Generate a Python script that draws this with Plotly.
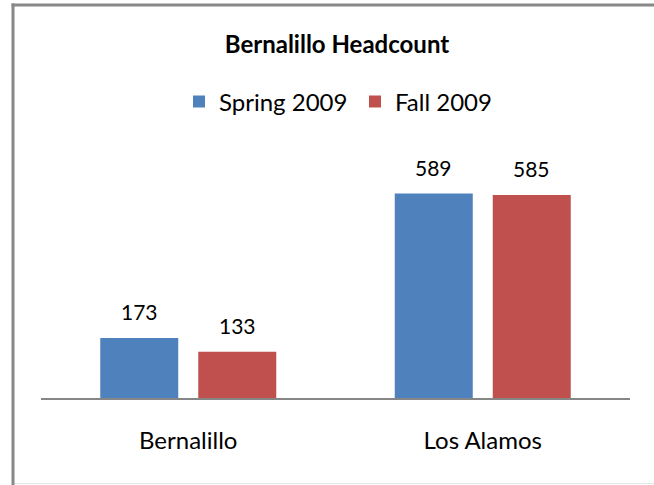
import plotly.graph_objects as go

categories = ["Bernalillo", "Los Alamos"]
spring_2009 = [173, 589]
fall_2009 = [133, 585]
series_names = ["Spring 2009", "Fall 2009"]
title_text = "Bernalillo Headcount"

W, H = 654, 485
L, R, T, B = 41, 24, 155, 87
pw = W - L - R
ph = H - T - B
FONT = "Lato, 'Open Sans', sans-serif"
bargap = 0.3345
bargroupgap = 0.204
ymax = 700

fig = go.Figure()
colors = ["#4F81BD", "#C0504D"]
for name, vals, col in zip(series_names, [spring_2009, fall_2009], colors):
    fig.add_trace(go.Bar(name=name, x=categories, y=vals, marker=dict(color=col, line=dict(width=0))))

# value labels as annotations
slot = (1 - bargap) / 2
for si, vals in enumerate([spring_2009, fall_2009]):
    off = (si - 0.5) * slot
    for ci, v in enumerate(vals):
        fig.add_annotation(x=ci + off, y=v, xref="x", yref="y", text=str(v), showarrow=False,
                           yanchor="bottom", yshift=12, font=dict(family=FONT, size=21, color="#000"))

def px2x(px):
    return (px - L) / pw

def py2y(py):
    return (H - B - py) / ph

shapes = [
    dict(type="line", xref="paper", yref="paper", x0=px2x(13), x1=px2x(13), y0=py2y(3.5), y1=py2y(485),
         line=dict(color="#888888", width=3), layer="above"),
    dict(type="line", xref="paper", yref="paper", x0=px2x(11.5), x1=px2x(654), y0=py2y(5), y1=py2y(5),
         line=dict(color="#888888", width=3), layer="above"),
    dict(type="line", xref="paper", yref="paper", x0=px2x(15), x1=px2x(654), y0=py2y(483.5), y1=py2y(483.5),
         line=dict(color="#e6e6e6", width=1)),
]

fig.update_layout(
    width=W, height=H,
    margin=dict(l=L, r=R, t=T, b=B, pad=0),
    paper_bgcolor="white", plot_bgcolor="white",
    bargap=bargap, bargroupgap=bargroupgap, barmode="group",
    title=dict(text="<b>" + title_text + "</b>", x=px2x(337), xref="paper", xanchor="center", y=1 - 45 / H, yanchor="middle",
               font=dict(family=FONT, size=24, color="#000")),
    legend=dict(orientation="h", x=px2x(355), xanchor="center", y=py2y(102), yanchor="middle",
                font=dict(family=FONT, size=24, color="#000"), itemwidth=30, traceorder="normal",
                entrywidth=131, bgcolor="rgba(0,0,0,0)"),
    showlegend=True,
    shapes=shapes,
    xaxis=dict(showline=True, linecolor="#868686", linewidth=2, ticks="outside", ticklen=20,
               tickcolor="rgba(0,0,0,0)", tickfont=dict(family=FONT, size=24, color="#000"),
               showgrid=False, zeroline=False),
    yaxis=dict(range=[0, ymax], visible=False, showgrid=False, zeroline=False),
)

fig.write_html("out.html", config={"displayModeBar": False},
               post_script="document.body.style.margin='0';document.body.style.overflow='hidden';")
